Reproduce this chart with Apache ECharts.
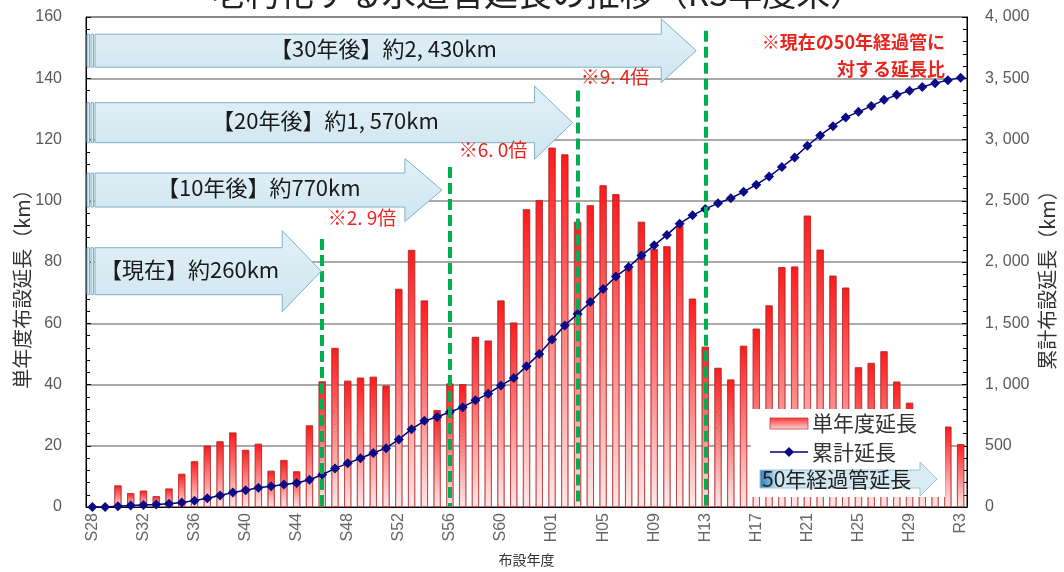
<!DOCTYPE html>
<html>
<head>
<meta charset="utf-8">
<script src="https://cdn.jsdelivr.net/npm/echarts@6/dist/echarts.min.js"></script>
<style>
  html, body { margin: 0; padding: 0; background: #fff; }
  #chart { width: 1064px; height: 572px; }
</style>
</head>
<body>
<div id="chart"></div>
<script>
// Fiscal years (Showa S, Heisei H, Reiwa R)
const categories = [
  'S28','S29','S30','S31','S32','S33','S34','S35','S36','S37','S38','S39',
  'S40','S41','S42','S43','S44','S45','S46','S47','S48','S49','S50','S51',
  'S52','S53','S54','S55','S56','S57','S58','S59','S60','S61','S62','S63',
  'H01','H02','H03','H04','H05','H06','H07','H08','H09','H10','H11','H12',
  'H13','H14','H15','H16','H17','H18','H19','H20','H21','H22','H23','H24',
  'H25','H26','H27','H28','H29','H30','R1','R2','R3'
];

// Pipe length laid in each fiscal year (km)
const annualLength = [
  0, 0, 7, 4.5, 5.3, 3.5, 6, 10.8, 14.9, 20, 21.4, 24.3,
  18.6, 20.6, 11.8, 15.3, 11.6, 26.6, 41, 51.9, 41.2, 42.2, 42.5, 39.6,
  71.2, 83.9, 67.4, 31.6, 40.3, 40.1, 55.5, 54.3, 67.4, 60.2, 97.2, 100.2,
  117.3, 115.1, 93.1, 98.5, 105, 102.1, 78, 93.1, 84.2, 85.1, 91.8, 68,
  52.3, 45.4, 41.6, 52.6, 58.2, 65.8, 78.3, 78.5, 95.1, 84, 75.5, 71.6,
  45.6, 47, 50.8, 40.9, 34, 31, 29, 26.2, 20.5
];

// Cumulative laid length (km)
const cumulativeLength = [
  0, 0, 7, 11.5, 16.8, 20.3, 26.3, 37.1, 52, 72, 93.4, 117.7,
  136.3, 156.9, 168.7, 184, 195.6, 222.2, 263.2, 315.1, 356.3, 398.5, 441, 480.6,
  551.8, 635.7, 703.1, 734.7, 775, 815.1, 870.6, 924.9, 992.3, 1052.5, 1149.7, 1249.9,
  1367.2, 1482.3, 1575.4, 1673.9, 1778.9, 1881, 1959, 2052.1, 2136.3, 2221.4, 2313.2, 2381.2,
  2433.5, 2478.9, 2520.5, 2573.1, 2631.3, 2697.1, 2775.4, 2853.9, 2949, 3033, 3108.5, 3180.1,
  3225.7, 3272.7, 3323.5, 3364.4, 3398.4, 3429.4, 3458.4, 3484.6, 3505.1
];

// Pipes older than 50 years: now, in 10, 20 and 30 years
const milestoneYears = ['S46', 'S56', 'H03', 'H13'];
const milestoneLineTops = [87.5, 111, 136, 155.5];
const milestoneLabels = ['【現在】約260km', '【10年後】約770km', '【20年後】約1, 570km', '【30年後】約2, 430km'];
const milestoneLevels = [77, 103.5, 125.5, 149];
const ratioLabels = ['※2. 9倍', '※6. 0倍', '※9. 4倍'];

const leftTicks = [0, 160, 20];
const rightTicks = [0, 4000, 500];

const JP = '"Noto Sans CJK JP", sans-serif';
const NUM = '"Liberation Sans", Arial, "Noto Sans CJK JP", sans-serif';

const chart = echarts.init(document.getElementById('chart'), null, { renderer: 'canvas' });

const barGradient = new echarts.graphic.LinearGradient(0, 0, 0, 1, [
  { offset: 0, color: '#ff1a1a' },
  { offset: 1, color: '#ffe8e8' }
]);

function thousands(v) {
  if (v < 1000) return String(v);
  return Math.floor(v / 1000) + ', ' + String(v % 1000).padStart(3, '0');
}

chart.setOption({
  animation: false,
  grid: { left: 86, right: 97, top: 17, bottom: 63, show: true, borderColor: '#000', borderWidth: 1 },
  xAxis: {
    type: 'category',
    data: categories,
    boundaryGap: true,
    axisLine: { lineStyle: { color: '#000', width: 1 } },
    axisTick: { inside: true, length: 4, interval: 0, lineStyle: { color: '#333' } },
    axisLabel: { interval: 3, rotate: 90, fontSize: 16, color: '#666', margin: 6, fontFamily: NUM },
    name: '布設年度',
    nameLocation: 'middle',
    nameGap: 46,
    nameTextStyle: { fontSize: 14, color: '#333', fontFamily: JP }
  },
  yAxis: [
    {
      type: 'value', position: 'left',
      min: leftTicks[0], max: leftTicks[1], interval: leftTicks[2],
      axisLine: { show: true, lineStyle: { color: '#000' } },
      axisTick: { show: true, inside: true, length: 5, lineStyle: { color: '#000' } },
      minorTick: { show: true, splitNumber: 5, length: 4, lineStyle: { color: '#000' } },
      axisLabel: { fontSize: 16, color: '#595959', margin: 24, fontFamily: NUM },
      splitLine: { show: true, lineStyle: { color: '#8c8c8c', width: 1.5 } }
    },
    {
      type: 'value', position: 'right',
      min: rightTicks[0], max: rightTicks[1], interval: rightTicks[2],
      axisLine: { show: true, lineStyle: { color: '#000' } },
      axisTick: { show: true, inside: true, length: 5, lineStyle: { color: '#000' } },
      minorTick: { show: true, splitNumber: 5, length: 4, lineStyle: { color: '#000' } },
      axisLabel: { fontSize: 16, color: '#595959', margin: 18, fontFamily: NUM, formatter: thousands },
      splitLine: { show: false }
    }
  ],
  series: [
    {
      name: '単年度延長',
      type: 'bar',
      data: annualLength,
      barWidth: 7,
      itemStyle: { color: barGradient, borderColor: '#b02a2a', borderWidth: 0.6 },
      markLine: {
        silent: true,
        symbol: ['none', 'none'],
        label: { show: false },
        lineStyle: { color: '#00b050', width: 4, type: [11, 5] },
        data: milestoneYears.map((c, i) => [
          { coord: [c, milestoneLineTops[i]] },
          { coord: [c, 0] }
        ])
      }
    },
    {
      name: '累計延長',
      type: 'line',
      yAxisIndex: 1,
      data: cumulativeLength,
      symbol: 'diamond',
      symbolSize: 10,
      showSymbol: true,
      showAllSymbol: true,
      lineStyle: { color: '#000080', width: 1.5 },
      itemStyle: { color: '#0b0b86' },
      z: 4
    }
  ]
});

// Annotation layer: milestone arrows, ratio notes, axis names, legend
const gridLeft = 86;
const arrowShape = [
  { shaft: 23.5, head: 40.5, headLen: 39, gap: 1,  textX: 100 },
  { shaft: 17,   head: 31.5, headLen: 37, gap: 8,  textX: 157 },
  { shaft: 20,   head: 36.5, headLen: 38, gap: 5,  textX: 212 },
  { shaft: 16.5, head: 32,   headLen: 35, gap: 9,  textX: 270 }
];
const ratioPos = [[362, 218], [493, 150], [615, 77]];

const elements = [];

// title (runs off the top edge)
elements.push({
  type: 'text', z: 100,
  style: { text: '老朽化する水道管延長の推移（R3年度末）', x: 538, y: -7, fontSize: 34, fontFamily: JP,
    fill: '#222', textAlign: 'center', textVerticalAlign: 'middle', align: 'center', verticalAlign: 'middle' }
});

milestoneYears.forEach((c, i) => {
  const s = arrowShape[i];
  const tip = chart.convertToPixel({ xAxisIndex: 0 }, c) - s.gap;
  const cy = chart.convertToPixel({ yAxisIndex: 0 }, milestoneLevels[i]);
  const x0 = gridLeft + 9;
  const hx = tip - s.headLen;
  const fill = new echarts.graphic.LinearGradient(0, 0, 0, 1, [
    { offset: 0, color: '#e2f0f7' }, { offset: 1, color: '#cfe6f0' }
  ]);
  elements.push({
    type: 'polygon', z: 50,
    shape: { points: [[x0, cy - s.shaft], [hx, cy - s.shaft], [hx, cy - s.head], [tip, cy],
                      [hx, cy + s.head], [hx, cy + s.shaft], [x0, cy + s.shaft]] },
    style: { fill: fill, stroke: '#7fb0c8', lineWidth: 1 }
  });
  [gridLeft + 1, gridLeft + 5].forEach(sx => {
    elements.push({
      type: 'rect', z: 50,
      shape: { x: sx, y: cy - s.shaft, width: 2.5, height: s.shaft * 2 },
      style: { fill: '#d7ebf4', stroke: '#7fb0c8', lineWidth: 1 }
    });
  });
  elements.push({
    type: 'text', z: 51,
    style: { text: milestoneLabels[i], x: s.textX, y: cy - 2, fontSize: 22, fontFamily: JP, fill: '#1a1a1a',
      textAlign: 'left', textVerticalAlign: 'middle', align: 'left', verticalAlign: 'middle' }
  });
});

ratioLabels.forEach((t, i) => {
  elements.push({
    type: 'text', z: 60,
    style: { text: t, x: ratioPos[i][0], y: ratioPos[i][1], fontSize: 19, fontFamily: JP, fill: '#e8261e',
      textAlign: 'center', textVerticalAlign: 'middle', align: 'center', verticalAlign: 'middle' }
  });
});
[['※現在の50年経過管に', 42], ['対する延長比', 69]].forEach(([t, y]) => {
  elements.push({
    type: 'text', z: 60,
    style: { text: t, x: 945, y: y, fontSize: 18, fontFamily: JP, fontWeight: 'bold', fill: '#e8261e',
      textAlign: 'right', textVerticalAlign: 'middle', align: 'right', verticalAlign: 'middle' }
  });
});

// axis names
elements.push({
  type: 'text', z: 60, x: 22, y: 284, rotation: Math.PI / 2,
  style: { text: '単年度布設延長（km）', x: 0, y: 0, fontSize: 20, fontFamily: JP, fill: '#333',
    textAlign: 'center', textVerticalAlign: 'middle', align: 'center', verticalAlign: 'middle' }
});
elements.push({
  type: 'text', z: 60, x: 1047, y: 275, rotation: Math.PI / 2,
  style: { text: '累計布設延長（km）', x: 0, y: 0, fontSize: 20, fontFamily: JP, fill: '#333',
    textAlign: 'center', textVerticalAlign: 'middle', align: 'center', verticalAlign: 'middle' }
});

// legend
elements.push({ type: 'rect', z: 90, shape: { x: 751, y: 409, width: 194, height: 88 }, style: { fill: '#fff' } });
elements.push({
  type: 'rect', z: 91, shape: { x: 770, y: 418, width: 38, height: 11 },
  style: { fill: new echarts.graphic.LinearGradient(0, 0, 0, 1, [
    { offset: 0, color: '#ff3030' }, { offset: 1, color: '#ffd8d8' }]), stroke: '#c04040', lineWidth: 0.8 }
});
elements.push({
  type: 'text', z: 91,
  style: { text: '単年度延長', x: 812, y: 423, fontSize: 21, fontFamily: JP, fill: '#333',
    textAlign: 'left', textVerticalAlign: 'middle', align: 'left', verticalAlign: 'middle' }
});
elements.push({ type: 'line', z: 91, shape: { x1: 770, y1: 452, x2: 808, y2: 452 }, style: { stroke: '#000080', lineWidth: 1.5 } });
elements.push({
  type: 'polygon', z: 92, shape: { points: [[789, 447], [794, 452], [789, 457], [784, 452]] },
  style: { fill: '#0b0b86' }
});
elements.push({
  type: 'text', z: 91,
  style: { text: '累計延長', x: 812, y: 452, fontSize: 21, fontFamily: JP, fill: '#333',
    textAlign: 'left', textVerticalAlign: 'middle', align: 'left', verticalAlign: 'middle' }
});
elements.push({
  type: 'polygon', z: 91,
  shape: { points: [[760, 470], [920, 470], [920, 462], [937, 479], [920, 496], [920, 488], [760, 488]] },
  style: { fill: new echarts.graphic.LinearGradient(0, 0, 1, 0, [
    { offset: 0, color: '#2f7fc1' }, { offset: 0.04, color: '#5a9fd0' }, { offset: 0.1, color: '#cfe6f0' },
    { offset: 1, color: '#dcedf5' }]), stroke: '#9cc4d8', lineWidth: 1 }
});
elements.push({
  type: 'text', z: 92,
  style: { text: '50年経過管延長', x: 762, y: 479, fontSize: 21, fontFamily: JP, fill: '#222',
    textAlign: 'left', textVerticalAlign: 'middle', align: 'left', verticalAlign: 'middle' }
});

chart.setOption({ graphic: { elements: elements } });
</script>
</body>
</html>
